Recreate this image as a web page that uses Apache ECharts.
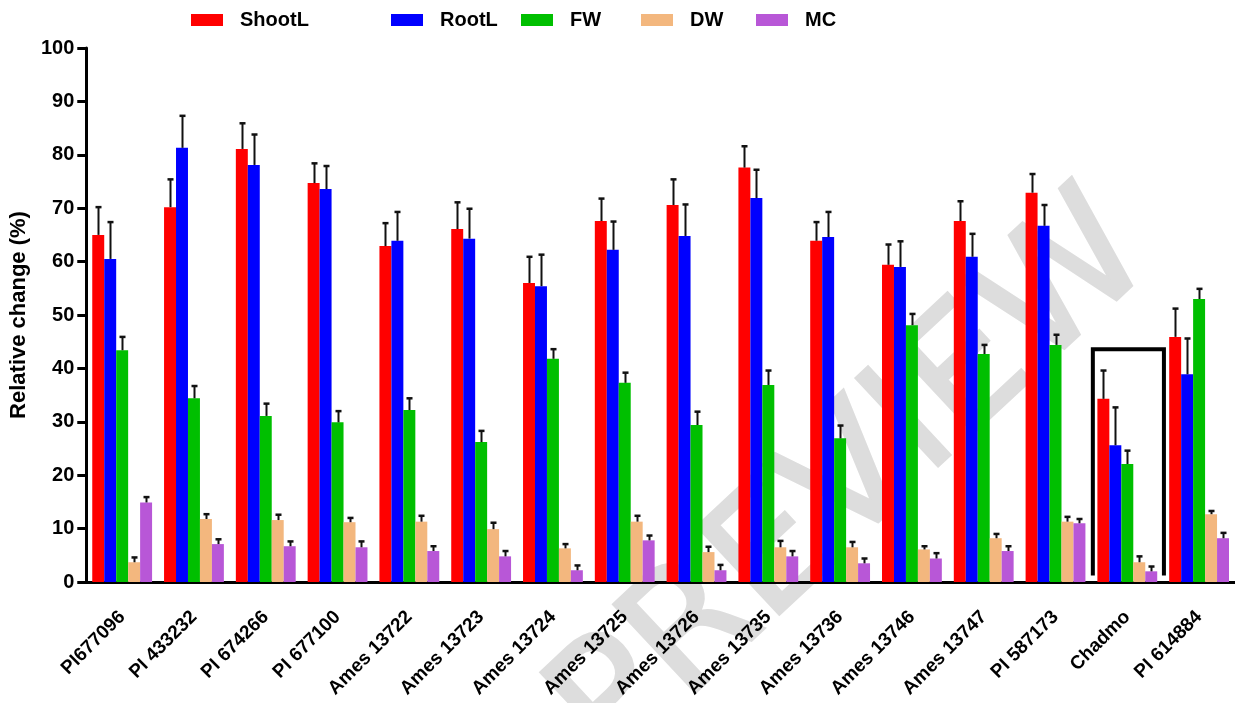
<!DOCTYPE html>
<html>
<head>
<meta charset="utf-8">
<script src="https://cdn.jsdelivr.net/npm/echarts@6/dist/echarts.min.js"></script>
<style>
  html, body { margin: 0; padding: 0; background: #fff; }
  #chart { width: 1235px; height: 703px; }
</style>
</head>
<body>
<div id="chart"></div>
<script>
// Accessions on the x axis
const categories = ['PI677096', 'PI 433232', 'PI 674266', 'PI 677100', 'Ames 13722', 'Ames 13723',
  'Ames 13724', 'Ames 13725', 'Ames 13726', 'Ames 13735', 'Ames 13736', 'Ames 13746',
  'Ames 13747', 'PI 587173', 'Chadmo', 'PI 614884'];

// Relative change (%) per trait, with the upper error (SE) for each bar
const shootL    = [65.0, 70.2, 81.1, 74.7, 62.9, 66.1, 56.0, 67.6, 70.6, 77.6, 63.9, 59.4, 67.6, 72.9, 34.3, 45.9];
const shootLErr = [5.2, 5.2, 4.8, 3.7, 4.3, 5.0, 4.9, 4.2, 4.8, 4.0, 3.5, 3.8, 3.7, 3.5, 5.3, 5.3];
const rootL     = [60.5, 81.3, 78.1, 73.6, 63.9, 64.3, 55.4, 62.2, 64.8, 71.9, 64.6, 59.0, 60.9, 66.7, 25.6, 38.9];
const rootLErr  = [6.9, 6.0, 5.7, 4.3, 5.4, 5.6, 5.9, 5.3, 5.9, 5.3, 4.7, 4.8, 4.3, 3.9, 7.1, 6.7];
const fw        = [43.4, 34.4, 31.1, 29.9, 32.2, 26.2, 41.8, 37.3, 29.4, 36.9, 26.9, 48.1, 42.7, 44.4, 22.1, 53.0];
const fwErr     = [2.5, 2.3, 2.3, 2.1, 2.2, 2.1, 1.8, 1.9, 2.5, 2.7, 2.4, 2.1, 1.7, 1.9, 2.5, 1.9];
const dw        = [3.7, 11.8, 11.6, 11.2, 11.3, 9.9, 6.3, 11.3, 5.6, 6.5, 6.5, 6.1, 8.2, 11.3, 3.7, 12.7];
const dwErr     = [0.9, 0.9, 1.0, 0.8, 1.1, 1.2, 0.8, 1.1, 1.0, 1.2, 1.0, 0.6, 0.8, 0.9, 1.1, 0.6];
const mc        = [14.9, 7.1, 6.7, 6.5, 5.8, 4.8, 2.2, 7.8, 2.2, 4.8, 3.5, 4.4, 5.8, 11.0, 2.0, 8.2];
const mcErr     = [1.0, 0.9, 0.9, 1.1, 0.9, 1.0, 0.9, 0.9, 1.0, 1.0, 0.9, 1.0, 0.9, 0.8, 0.9, 1.0];

// Highlight frame around the check cultivar: [category, top, bottom]
const highlight = [['Chadmo', 43.6, 1.2]];

const yTicks = { min: 0, max: 100, interval: 10 };

const traits = [
  { name: 'ShootL', values: shootL, errs: shootLErr, color: '#ff0000', legendX: 191 },
  { name: 'RootL',  values: rootL,  errs: rootLErr,  color: '#0000ff', legendX: 391 },
  { name: 'FW',     values: fw,     errs: fwErr,     color: '#00bf00', legendX: 521 },
  { name: 'DW',     values: dw,     errs: dwErr,     color: '#f3b77e', legendX: 641 },
  { name: 'MC',     values: mc,     errs: mcErr,     color: '#b857d7', legendX: 756 }
];

const FONT = 'Liberation Sans, Arial, sans-serif';
const CAT_GAP = 1 / 6;            // fraction of each band left empty
const nBars = traits.length;

const chart = echarts.init(document.getElementById('chart'), null, { renderer: 'canvas' });

const series = [];
traits.forEach((t) => {
  series.push({
    name: t.name,
    type: 'bar',
    data: t.values,
    barGap: '0%',
    barCategoryGap: (CAT_GAP * 100).toFixed(2) + '%',
    itemStyle: { color: t.color },
    z: 2
  });
});

// Upper error whiskers drawn over each bar
traits.forEach((t, i) => {
  series.push({
    type: 'custom',
    name: t.name + ' err',
    z: 5,
    silent: true,
    data: t.values.map((v, k) => [k, v, v + t.errs[k]]),
    renderItem: function (params, api) {
      const band = api.size([1, 0])[0];
      const barW = band * (1 - CAT_GAP) / nBars;
      const base = api.coord([api.value(0), api.value(1)]);
      const top = api.coord([api.value(0), api.value(2)]);
      const x = Math.round(base[0] + (i - (nBars - 1) / 2) * barW) + 0.5;
      const cap = 3;
      return {
        type: 'group',
        children: [
          { type: 'line', shape: { x1: x, y1: base[1], x2: x, y2: top[1] },
            style: { stroke: '#111', lineWidth: 2 } },
          { type: 'line', shape: { x1: x - cap, y1: top[1], x2: x + cap, y2: top[1] },
            style: { stroke: '#111', lineWidth: 2.5 } }
        ]
      };
    }
  });
});

// Open-bottom frame around one accession
series.push({
  type: 'custom',
  name: 'frame',
  z: 6,
  silent: true,
  data: highlight,
  renderItem: function (params, api) {
    const band = api.size([1, 0])[0];
    const c = api.coord([api.value(0), api.value(1)]);
    const b = api.coord([api.value(0), api.value(2)]);
    const l = c[0] - band * 0.48, r = c[0] + band * 0.51;
    return {
      type: 'polyline',
      shape: { points: [[l, b[1]], [l, c[1]], [r, c[1]], [r, b[1]]] },
      style: { stroke: '#000', lineWidth: 4, fill: null, lineJoin: 'miter' }
    };
  }
});

const legends = traits.map(t => ({
  data: [t.name],
  left: t.legendX,
  top: 10,
  padding: 0,
  icon: 'rect',
  itemWidth: 32,
  itemHeight: 12,
  selectedMode: false,
  textStyle: {
    fontFamily: FONT,
    fontWeight: 'bold',
    fontSize: 20,
    color: '#000',
    padding: [0, 0, 0, 12]
  }
}));

chart.setOption({
  animation: false,
  backgroundColor: '#fff',
  textStyle: { fontFamily: FONT },
  legend: legends,
  grid: { left: 86, top: 48, width: 1152, bottom: 121, containLabel: false },
  graphic: [{
    type: 'text',
    z: -10,
    silent: true,
    x: 855,
    y: 485,
    rotation: 43 * Math.PI / 180,
    style: {
      text: 'PREVIEW',
      fill: '#dddddd',
      stroke: '#dddddd',
      lineWidth: 3,
      lineJoin: 'round',
      fontFamily: 'DejaVu Sans, sans-serif',
      fontSize: 165,
      fontWeight: 'normal',
      align: 'center',
      verticalAlign: 'middle'
    }
  }],
  xAxis: {
    type: 'category',
    data: categories,
    axisLine: { lineStyle: { color: '#000', width: 3 } },
    axisTick: { alignWithLabel: true, length: 9, lineStyle: { color: '#000', width: 3 } },
    axisLabel: {
      interval: 0,
      rotate: 45,
      margin: 32,
      color: '#000',
      fontWeight: 'bold',
      fontSize: 19,
      fontFamily: FONT
    },
    splitLine: { show: false }
  },
  yAxis: {
    type: 'value',
    min: yTicks.min,
    max: yTicks.max,
    interval: yTicks.interval,
    name: 'Relative change (%)',
    nameLocation: 'middle',
    nameGap: 54,
    nameTextStyle: {
      color: '#000',
      fontWeight: 'bold',
      fontSize: 22,
      fontFamily: FONT
    },
    axisLine: { show: true, lineStyle: { color: '#000', width: 3 } },
    axisTick: { show: true, length: 9, lineStyle: { color: '#000', width: 3 } },
    axisLabel: {
      margin: 12,
      color: '#000',
      fontWeight: 'bold',
      fontSize: 20,
      fontFamily: FONT
    },
    splitLine: { show: false }
  },
  series: series
});
</script>
</body>
</html>
